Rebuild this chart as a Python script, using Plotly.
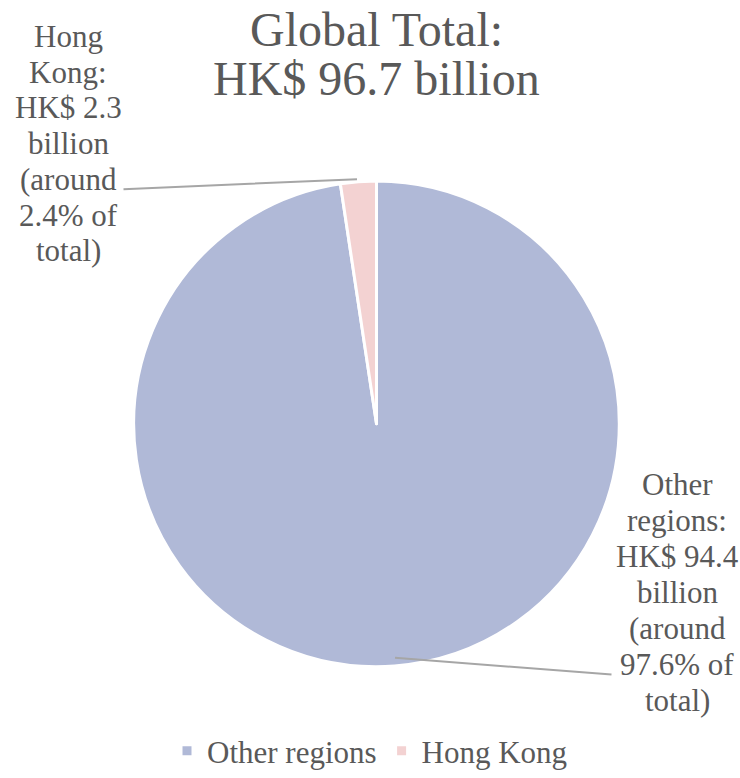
import plotly.graph_objects as go

W, H = 740, 778

labels = ["Other regions", "Hong Kong"]
values = [94.4, 2.3]
colors = ["#B0B9D7", "#F3D2D2"]

title_lines = ["Global Total:", "HK$ 96.7 billion"]
other_label_lines = ["Other", "regions:", "HK$ 94.4", "billion", "(around", "97.6% of", "total)"]
hk_label_lines = ["Hong", "Kong:", "HK$ 2.3", "billion", "(around", "2.4% of", "total)"]

TXT = "#595959"
FONT = "Liberation Serif"

fig = go.Figure(go.Pie(
    labels=labels, values=values, sort=False, direction="clockwise",
    marker=dict(colors=colors, line=dict(color="white", width=3)),
    textinfo="none",
    domain=dict(x=[129.9 / W, 623.1 / W], y=[1 - 677.1 / H, 1 - 183.9 / H]),
))

ann = []
def px(x, y):
    return x / W, 1 - y / H

for i, t in enumerate(title_lines):
    x, y = px(376, 30 + 50 * i)
    ann.append(dict(text=t, x=x, y=y, xref="paper", yref="paper", showarrow=False,
                    xanchor="center", yanchor="middle", font=dict(size=48, family=FONT, color=TXT)))
for i, t in enumerate(hk_label_lines):
    x, y = px(68, 37 + 36.3 * i)
    ann.append(dict(text=t, x=x, y=y, xref="paper", yref="paper", showarrow=False,
                    xanchor="center", yanchor="middle", font=dict(size=31, family=FONT, color=TXT)))
for i, t in enumerate(other_label_lines):
    x, y = px(677, 492 + 36.5 * i)
    ann.append(dict(text=t, x=x, y=y, xref="paper", yref="paper", showarrow=False,
                    xanchor="center", yanchor="middle", font=dict(size=31, family=FONT, color=TXT)))

# leader lines drawn as arrow-only annotations (tip at slice, tail at label)
for (tx, ty, lx, ly) in [(357, 182, 122, 192), (395, 668, 613, 685)]:
    x, y = px(tx, ty)
    ann.append(dict(text="", x=x, y=y, xref="paper", yref="paper", showarrow=True,
                    ax=lx - tx, ay=ly - ty, arrowhead=0, arrowwidth=2, arrowcolor="#A6A6A6",
                    standoff=0, startstandoff=0))

fig.update_layout(
    width=W, height=H, margin=dict(l=0, r=0, t=0, b=0),
    font=dict(family=FONT, color=TXT, size=31),
    annotations=ann,
    legend=dict(orientation="h", x=0.5, xanchor="center", y=1 - 763 / H, yanchor="middle"),
)

fig.write_html("out.html")
